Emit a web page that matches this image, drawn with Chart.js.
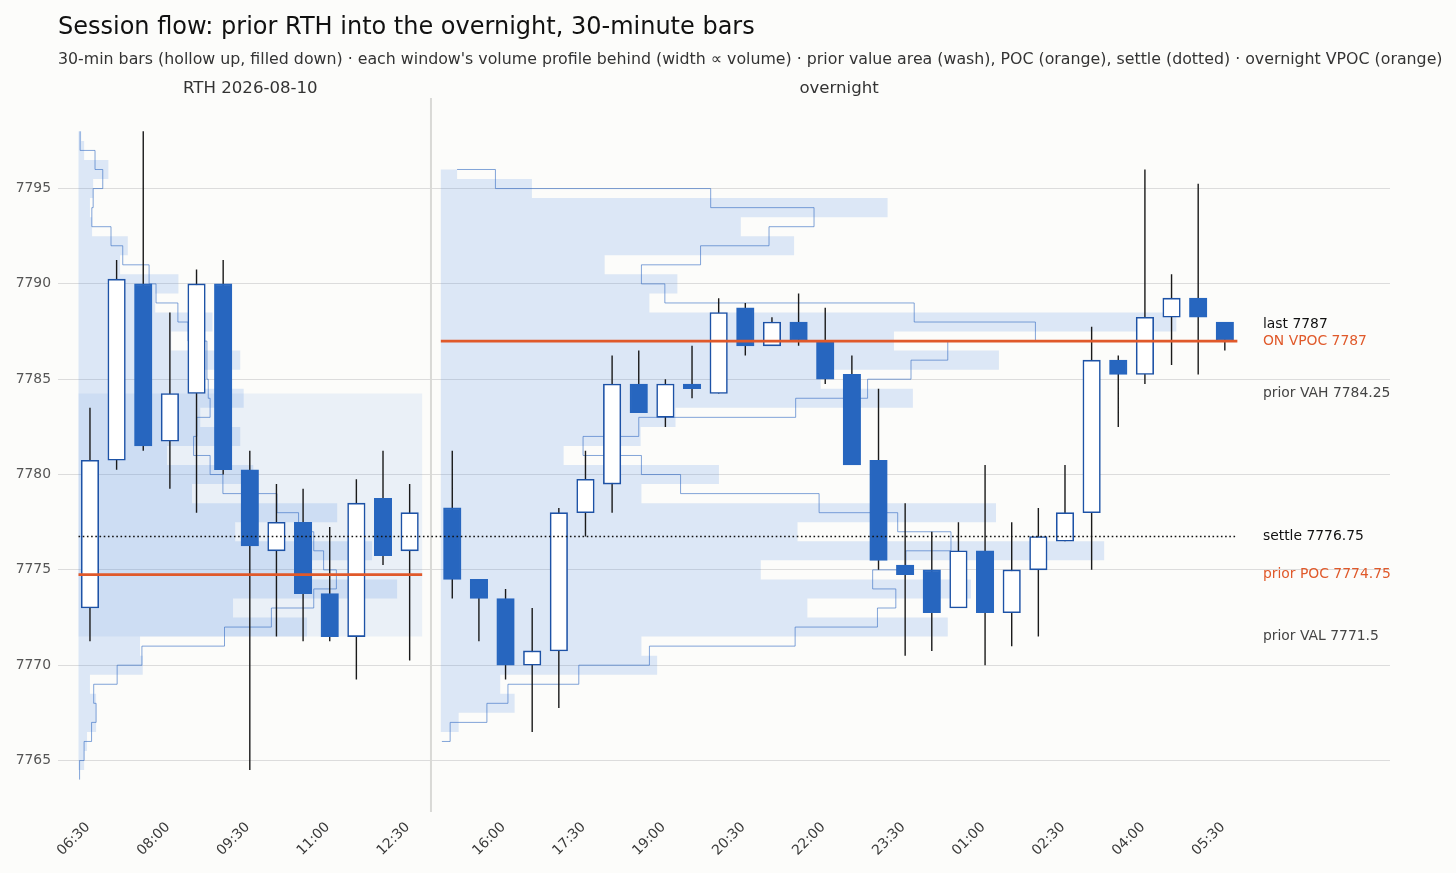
<!DOCTYPE html>
<html>
<head>
<meta charset="utf-8">
<script src="https://cdn.jsdelivr.net/npm/chart.js@4.4.1/dist/chart.umd.min.js"></script>
<style>
  html, body { margin: 0; padding: 0; background: #fcfcfa; }
  canvas { display: block; }
</style>
</head>
<body>
<canvas id="c" width="1456" height="873"></canvas>
<script>
// ---------------- DATA ----------------
const TITLE = 'Session flow: prior RTH into the overnight, 30-minute bars';
const SUBTITLE = "30-min bars (hollow up, filled down) \u00b7 each window's volume profile behind (width \u221d volume) \u00b7 prior value area (wash), POC (orange), settle (dotted) \u00b7 overnight VPOC (orange)";
const windowLabels = ['RTH 2026-08-10', 'overnight'];

// prior RTH session, 30-minute bars
const rthTimes = ['06:30','07:00','07:30','08:00','08:30','09:00','09:30','10:00','10:30','11:00','11:30','12:00','12:30'];
const rthOpen  = [7773.00,7780.75,7790.00,7781.75,7784.25,7790.00,7780.25,7776.00,7777.50,7773.75,7771.50,7778.75,7776.00];
const rthHigh  = [7783.50,7791.25,7798.00,7788.50,7790.75,7791.25,7781.25,7779.50,7779.25,7777.25,7779.75,7781.25,7779.50];
const rthLow   = [7771.25,7780.25,7781.25,7779.25,7778.00,7780.00,7764.50,7771.50,7771.25,7771.25,7769.25,7775.25,7770.25];
const rthClose = [7780.75,7790.25,7781.50,7784.25,7790.00,7780.25,7776.25,7777.50,7773.75,7771.50,7778.50,7775.75,7778.00];

// overnight session, 30-minute bars
const onTimes = ['15:00','15:30','16:00','16:30','17:00','17:30','18:00','18:30','19:00','19:30','20:00','20:30','21:00','21:30','22:00',
                 '22:30','23:00','23:30','00:00','00:30','01:00','01:30','02:00','02:30','03:00','03:30','04:00','04:30','05:00','05:30'];
const onOpen  = [7778.25,7774.50,7773.50,7770.00,7770.75,7778.00,7779.50,7784.75,7783.00,7784.75,7784.25,7788.75,7786.75,7788.00,7787.00,
                 7785.25,7780.75,7775.25,7775.00,7773.00,7776.00,7772.75,7775.00,7776.50,7778.00,7786.00,7785.25,7788.25,7789.25,7788.00];
const onHigh  = [7781.25,7774.50,7774.00,7773.00,7778.25,7781.25,7786.25,7786.50,7785.00,7786.75,7789.25,7789.00,7788.25,7789.50,7788.75,
                 7786.25,7784.50,7778.50,7777.00,7777.50,7780.50,7777.50,7778.25,7780.50,7787.75,7786.25,7796.00,7790.50,7795.25,7788.00];
const onLow   = [7773.50,7771.25,7769.25,7766.50,7767.75,7776.75,7778.00,7783.25,7782.50,7784.00,7784.25,7786.25,7786.75,7786.75,7784.75,
                 7780.50,7775.00,7770.50,7770.75,7773.00,7770.00,7771.00,7771.50,7776.50,7775.00,7782.50,7784.75,7785.75,7785.25,7786.50];
const onClose = [7774.50,7773.50,7770.00,7770.75,7778.00,7779.75,7784.75,7783.25,7784.75,7784.50,7788.50,7786.75,7788.00,7787.00,7785.00,
                 7780.50,7775.50,7774.75,7772.75,7776.00,7772.75,7775.00,7776.75,7778.00,7786.00,7785.25,7788.25,7789.25,7788.25,7787.00];

// volume profiles: wash bins (1-pt bins centred on price)
const rthWashPrices = [7765,7766,7767,7768,7769,7770,7771,7772,7773,7774,7775,7776,7777,7778,7779,7780,7781,
                       7782,7783,7784,7785,7786,7787,7788,7789,7790,7791,7792,7793,7794,7795,7796,7797,7798];
const rthWashVol    = [2.1,3.2,6.6,6.6,4.3,24.1,23.1,85.8,58.0,119.6,87.0,110.2,58.8,97.1,42.6,65.6,33.2,
                       60.7,45.7,62.0,45.7,60.7,34.8,50.3,28.8,37.5,15.6,18.5,5.1,4.3,5.5,11.2,2.1,1.0];
const onWashPrices  = [7766,7767,7768,7769,7770,7771,7772,7773,7774,7775,7776,7777,7778,7779,7780,7781,
                       7782,7783,7784,7785,7786,7787,7788,7789,7790,7791,7792,7793,7794,7795,7796];
const onWashVol     = [3.2,6.7,27.7,22.3,81.2,75.3,190.3,137.6,199.0,120.1,249.0,133.9,208.4,75.3,104.4,46.1,
                       75.0,88.1,177.2,142.6,209.5,170.1,276.1,78.3,88.8,61.5,132.6,112.6,167.7,34.2,6.1];

// volume profiles: step outline (value for each 1-pt interval [p, p+1])
const rthStepPrices = [7764,7765,7766,7767,7768,7769,7770,7771,7772,7773,7774,7775,7776,7777,7778,7779,7780,
                       7781,7782,7783,7784,7785,7786,7787,7788,7789,7790,7791,7792,7793,7794,7795,7796,7797];
const rthStepVol    = [0.4,2.1,4.9,6.6,5.7,14.5,23.8,54.8,72.4,88.3,96.8,92.0,88.3,82.6,74.5,54.2,49.4,
                       43.2,44.4,49.4,48.7,48.2,48.2,41.1,37.3,29.1,26.5,16.6,12.2,5.0,5.5,9.1,6.2,0.6];
const rthStepCaps   = [0.4, 0.6];
const onStepPrices  = [7766,7767,7768,7769,7770,7771,7772,7773,7774,7775,7776,7777,7778,7779,7780,
                       7781,7782,7783,7784,7785,7786,7787,7788,7789,7790,7791,7792,7793,7794,7795];
const onStepVol     = [3.5,17.3,25.2,51.8,78.3,133.0,163.9,170.8,162.1,174.6,191.5,171.5,142.0,90.0,75.3,
                       53.4,74.3,133.2,160.2,176.5,190.3,223.2,177.7,84.1,75.3,97.5,123.2,140.1,101.3,20.5];
const onStepCaps    = [0.4, 6.1];

// reference levels
const priorVAH = 7784.25, priorVAL = 7771.5, priorPOC = 7774.75, settle = 7776.75, onVPOC = 7787;
const lastPrice = onClose[onClose.length - 1];

// axis ticks
const yTicks = [7765,7770,7775,7780,7785,7790,7795];
const xTickLabels = ['06:30','08:00','09:30','11:00','12:30','16:00','17:30','19:00','20:30','22:00','23:30','01:00','02:30','04:00','05:30'];

// ---------------- LAYOUT HELPERS ----------------
const GAP = 1.6;                       // gap between sessions, in bar slots
const X_PER_VOL = 0.1;                 // profile width (bar slots per volume unit)
const PAD_L = 0.43, PAD_R = 0.47;
const rthX = rthTimes.map((t, i) => i);
const ON_START = rthTimes.length - 1 + GAP;
const onX = onTimes.map((t, k) => ON_START + k);
const rthLeft = rthX[0] - PAD_L, rthRight = rthX[rthX.length - 1] + PAD_R;
const onLeft = onX[0] - PAD_L, onRight = onX[onX.length - 1] + PAD_R;
const SEP_X = (rthX[rthX.length - 1] + onX[0]) / 2;
const LABEL_X = onX[onX.length - 1] + 1.43;
const X_MIN = -1.2, X_MAX = 48.8, Y_MIN = 7762.3, Y_MAX = 7799.75;

const allX = rthX.concat(onX);
const allTimes = rthTimes.concat(onTimes);
const allO = rthOpen.concat(onOpen), allH = rthHigh.concat(onHigh), allL = rthLow.concat(onLow), allC = rthClose.concat(onClose);
const xTickPos = xTickLabels.map(l => allX[allTimes.indexOf(l)]);

function washPolygon(prices, vols, left, lo, hi) {
  const pts = [{x: left, y: lo}];
  prices.forEach((p, i) => {
    const b0 = Math.max(p - 0.5, lo), b1 = Math.min(p + 0.5, hi);
    const xr = left + vols[i] * X_PER_VOL;
    pts.push({x: xr, y: b0}, {x: xr, y: b1});
  });
  pts.push({x: left, y: hi});
  return pts;
}
function stepLine(prices, vols, left, caps) {
  const pts = [{x: left + caps[0] * X_PER_VOL, y: prices[0]}];
  prices.forEach((p, i) => {
    const xv = left + vols[i] * X_PER_VOL;
    pts.push({x: xv, y: p}, {x: xv, y: p + 1});
  });
  pts.push({x: left + caps[1] * X_PER_VOL, y: prices[prices.length - 1] + 1});
  return pts;
}

const rthLo = Math.min(...rthLow), rthHi = Math.max(...rthHigh);
const onLo = Math.min(...onLow), onHi = Math.max(...onHigh);

const wicks = [];
allX.forEach((x, i) => { wicks.push({x, y: allL[i]}, {x, y: allH[i]}, {x, y: null}); });
const bodies = allX.map((x, i) => ({x, y: [allO[i], allC[i]]}));
const isUp = allX.map((x, i) => allC[i] >= allO[i]);

const BLUE_FILL = '#2766bf', BLUE_EDGE = '#1d52a6', ORANGE = '#e0592a';
const WASH = 'rgba(80,140,230,0.18)', VA_WASH = 'rgba(80,140,230,0.10)', STEP = 'rgba(55,110,195,0.62)';

const lineDS = (data, extra) => Object.assign({
  type: 'line', data, pointRadius: 0, pointHoverRadius: 0, fill: false, tension: 0, borderWidth: 1
}, extra);

const datasets = [
  lineDS([{x: rthLeft, y: priorVAL}, {x: rthRight, y: priorVAL}, {x: rthRight, y: priorVAH}, {x: rthLeft, y: priorVAH}],
         {fill: 'shape', backgroundColor: VA_WASH, borderWidth: 0, borderColor: 'rgba(0,0,0,0)', order: 20}),
  lineDS(washPolygon(rthWashPrices, rthWashVol, rthLeft, rthLo, rthHi),
         {fill: 'shape', backgroundColor: WASH, borderWidth: 0, borderColor: 'rgba(0,0,0,0)', order: 19}),
  lineDS(washPolygon(onWashPrices, onWashVol, onLeft, onLo, onHi),
         {fill: 'shape', backgroundColor: WASH, borderWidth: 0, borderColor: 'rgba(0,0,0,0)', order: 18}),
  lineDS(stepLine(rthStepPrices, rthStepVol, rthLeft, rthStepCaps), {borderColor: STEP, borderWidth: 1, order: 17}),
  lineDS(stepLine(onStepPrices, onStepVol, onLeft, onStepCaps), {borderColor: STEP, borderWidth: 1, order: 16}),
  lineDS([{x: SEP_X, y: Y_MIN}, {x: SEP_X, y: Y_MAX}], {borderColor: '#d9d9d6', borderWidth: 2, order: 15}),
  lineDS(wicks, {borderColor: '#1a1a1a', borderWidth: 1.4, spanGaps: false, order: 10}),
  {
    type: 'bar', data: bodies, order: 9,
    backgroundColor: isUp.map(u => u ? '#ffffff' : BLUE_FILL),
    borderColor: isUp.map(u => u ? BLUE_EDGE : BLUE_FILL),
    borderWidth: 1.6, borderSkipped: false, barThickness: 17.5
  },
  lineDS([{x: rthLeft, y: settle}, {x: onRight, y: settle}], {borderColor: '#111', borderWidth: 1.6, borderDash: [1.6, 2.6], order: 5}),
  lineDS([{x: rthLeft, y: priorPOC}, {x: rthRight, y: priorPOC}], {borderColor: ORANGE, borderWidth: 2.6, order: 4}),
  lineDS([{x: onLeft, y: onVPOC}, {x: onRight, y: onVPOC}], {borderColor: ORANGE, borderWidth: 2.6, order: 3})
];

const rightLabels = [
  {text: 'last ' + lastPrice, value: lastPrice, color: '#111', dy: -17},
  {text: 'ON VPOC ' + onVPOC, value: onVPOC, color: ORANGE, dy: 0},
  {text: 'prior VAH ' + priorVAH, value: priorVAH, color: '#444', dy: 0},
  {text: 'settle ' + settle, value: settle, color: '#111', dy: 0},
  {text: 'prior POC ' + priorPOC, value: priorPOC, color: ORANGE, dy: 0},
  {text: 'prior VAL ' + priorVAL, value: priorVAL, color: '#444', dy: 0}
];

const FONT = '"DejaVu Sans", "Liberation Sans", sans-serif';

const decor = {
  id: 'decor',
  beforeDraw(chart) {
    const ctx = chart.ctx;
    ctx.save();
    ctx.fillStyle = '#fcfcfa';
    ctx.fillRect(0, 0, chart.width, chart.height);
    ctx.restore();
  },
  afterDraw(chart) {
    const {ctx, chartArea, scales: {x, y}} = chart;
    ctx.save();
    ctx.textAlign = 'left';
    ctx.textBaseline = 'alphabetic';
    ctx.fillStyle = '#111';
    ctx.font = '24px ' + FONT;
    ctx.fillText(TITLE, chartArea.left, 34);
    ctx.fillStyle = '#333';
    ctx.font = '15.8px ' + FONT;
    ctx.fillText(SUBTITLE, chartArea.left, 63.5);
    ctx.textAlign = 'center';
    ctx.font = '16.6px ' + FONT;
    ctx.fillText(windowLabels[0], x.getPixelForValue((rthLeft + rthRight) / 2), 92.5);
    ctx.fillText(windowLabels[1], x.getPixelForValue((onLeft + onRight) / 2), 92.5);
    ctx.textAlign = 'left';
    ctx.textBaseline = 'middle';
    ctx.font = '13.9px ' + FONT;
    rightLabels.forEach(l => {
      ctx.fillStyle = l.color;
      ctx.fillText(l.text, x.getPixelForValue(LABEL_X), y.getPixelForValue(l.value) + l.dy);
    });
    ctx.restore();
  }
};

Chart.defaults.font.family = FONT;

new Chart(document.getElementById('c'), {
  type: 'line',
  data: {datasets},
  options: {
    responsive: false,
    animation: false,
    devicePixelRatio: 1,
    layout: {padding: {top: 98, right: 66, left: 0, bottom: 0}},
    plugins: {legend: {display: false}, tooltip: {enabled: false}, title: {display: false}},
    events: [],
    scales: {
      x: {
        type: 'linear', min: X_MIN, max: X_MAX, offset: false,
        grid: {display: false, drawTicks: false, offset: false},
        border: {display: false},
        afterBuildTicks: s => { s.ticks = xTickPos.map(v => ({value: v})); },
        afterFit: s => { s.height = 61; },
        ticks: {
          autoSkip: false, maxRotation: 45, minRotation: 45, padding: 7, labelOffset: -2,
          color: '#3a3a3a', font: {size: 13.9},
          callback: v => { const i = xTickPos.indexOf(v); return i >= 0 ? xTickLabels[i] : ''; }
        }
      },
      y: {
        type: 'linear', min: Y_MIN, max: Y_MAX,
        grid: {color: '#dcdcdc', lineWidth: 1, drawTicks: false},
        border: {display: false},
        afterBuildTicks: s => { s.ticks = yTicks.map(v => ({value: v})); },
        afterFit: s => { s.width = 58; },
        ticks: {padding: 7, color: '#555', font: {size: 13.9}, callback: v => String(v)}
      }
    }
  },
  plugins: [decor]
});
</script>
</body>
</html>
